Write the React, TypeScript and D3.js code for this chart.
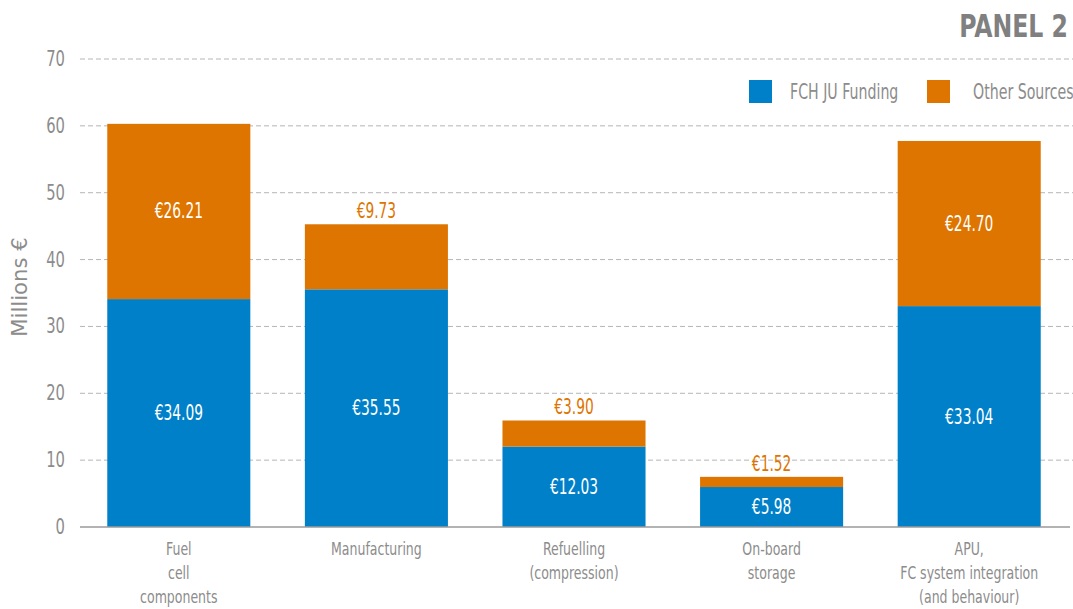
import React from "react";
import * as d3 from "d3";

const categories: string[][] = [
  ["Fuel", "cell", "components"],
  ["Manufacturing"],
  ["Refuelling", "(compression)"],
  ["On-board", "storage"],
  ["APU,", "FC system integration", "(and behaviour)"],
];
const fchFunding = [34.09, 35.55, 12.03, 5.98, 33.04];
const otherSources = [26.21, 9.73, 3.9, 1.52, 24.7];
const yTicks = [0, 10, 20, 30, 40, 50, 60, 70];
const seriesNames = ["FCH JU Funding", "Other Sources"];

const BLUE = "#0080C9";
const ORANGE = "#DE7500";
const GRAY = "#8c8c8c";
const FONT = "'Liberation Sans Narrow', 'DejaVu Sans Condensed', 'Roboto', sans-serif";

const W = 1073;
const H = 609;

function T({ x, y, sx = 0.82, anchor = "middle", size = 20, fill = GRAY, weight = 300, children, rotate = 0 }: any) {
  return (
    <text
      transform={`translate(${x},${y}) rotate(${rotate}) scale(${sx},1)`}
      textAnchor={anchor}
      fontSize={size}
      fill={fill}
      fontWeight={weight}
      fontFamily={FONT}
    >
      {children}
    </text>
  );
}

export default function App() {
  const x = d3
    .scaleBand<number>()
    .domain(d3.range(categories.length))
    .range([80, 1068])
    .paddingInner(0.276)
    .paddingOuter(0.138);
  const y = d3.scaleLinear().domain([0, 70]).range([527, 59]);

  return (
    <svg width={W} height={H} style={{ position: "absolute", left: 0, top: 0 }}>
      <rect width={W} height={H} fill="#fff" />
      <T x={1068} y={37} anchor="end" size={32} weight={700} fill="#808080" sx={0.82}>
        PANEL 2
      </T>
      {yTicks.map((t) => (
        <g key={t}>
          {t > 0 && (
            <line x1={80} x2={W} y1={y(t)} y2={y(t)} stroke="#b5b5b5" strokeWidth={1} strokeDasharray="5,3" />
          )}
          <T x={65} y={y(t) + 7} anchor="end" size={21} sx={0.78}>
            {t}
          </T>
        </g>
      ))}
      <T x={27} y={287} rotate={-90} size={21} sx={1.12}>
        Millions €
      </T>
      {categories.map((c, i) => {
        const bx = x(i)!;
        const bw = x.bandwidth();
        const b0 = y(0);
        const b1 = y(fchFunding[i]);
        const o1 = y(fchFunding[i] + otherSources[i]);
        const cx = bx + bw / 2;
        const inside = b1 - o1 > 100;
        return (
          <g key={i}>
            <rect x={bx} y={b1} width={bw} height={b0 - b1} fill={BLUE} />
            <rect x={bx} y={o1} width={bw} height={b1 - o1} fill={ORANGE} />
            <T x={cx} y={(b0 + b1) / 2 + 7} fill="#fff" size={21} sx={0.73}>
              €{fchFunding[i].toFixed(2)}
            </T>
            {inside ? (
              <T x={cx} y={(b1 + o1) / 2 + 7} fill="#fff" size={21} sx={0.73}>
                €{otherSources[i].toFixed(2)}
              </T>
            ) : (
              <T x={cx} y={o1 - 6} fill={ORANGE} size={21} sx={0.73}>
                €{otherSources[i].toFixed(2)}
              </T>
            )}
            {c.map((line, k) => (
              <T key={k} x={cx} y={555 + k * 24} size={17}>
                {line}
              </T>
            ))}
          </g>
        );
      })}
      <line x1={80} x2={1070} y1={y(0)} y2={y(0)} stroke="#9a9a9a" strokeWidth={1.5} />
      <rect x={749} y={80} width={23} height={23} fill={BLUE} />
      <T x={790} y={99} anchor="start" size={21} sx={0.75}>
        {seriesNames[0]}
      </T>
      <rect x={927} y={80} width={23} height={23} fill={ORANGE} />
      <T x={973} y={99} anchor="start" size={21} sx={0.75}>
        {seriesNames[1]}
      </T>
    </svg>
  );
}
